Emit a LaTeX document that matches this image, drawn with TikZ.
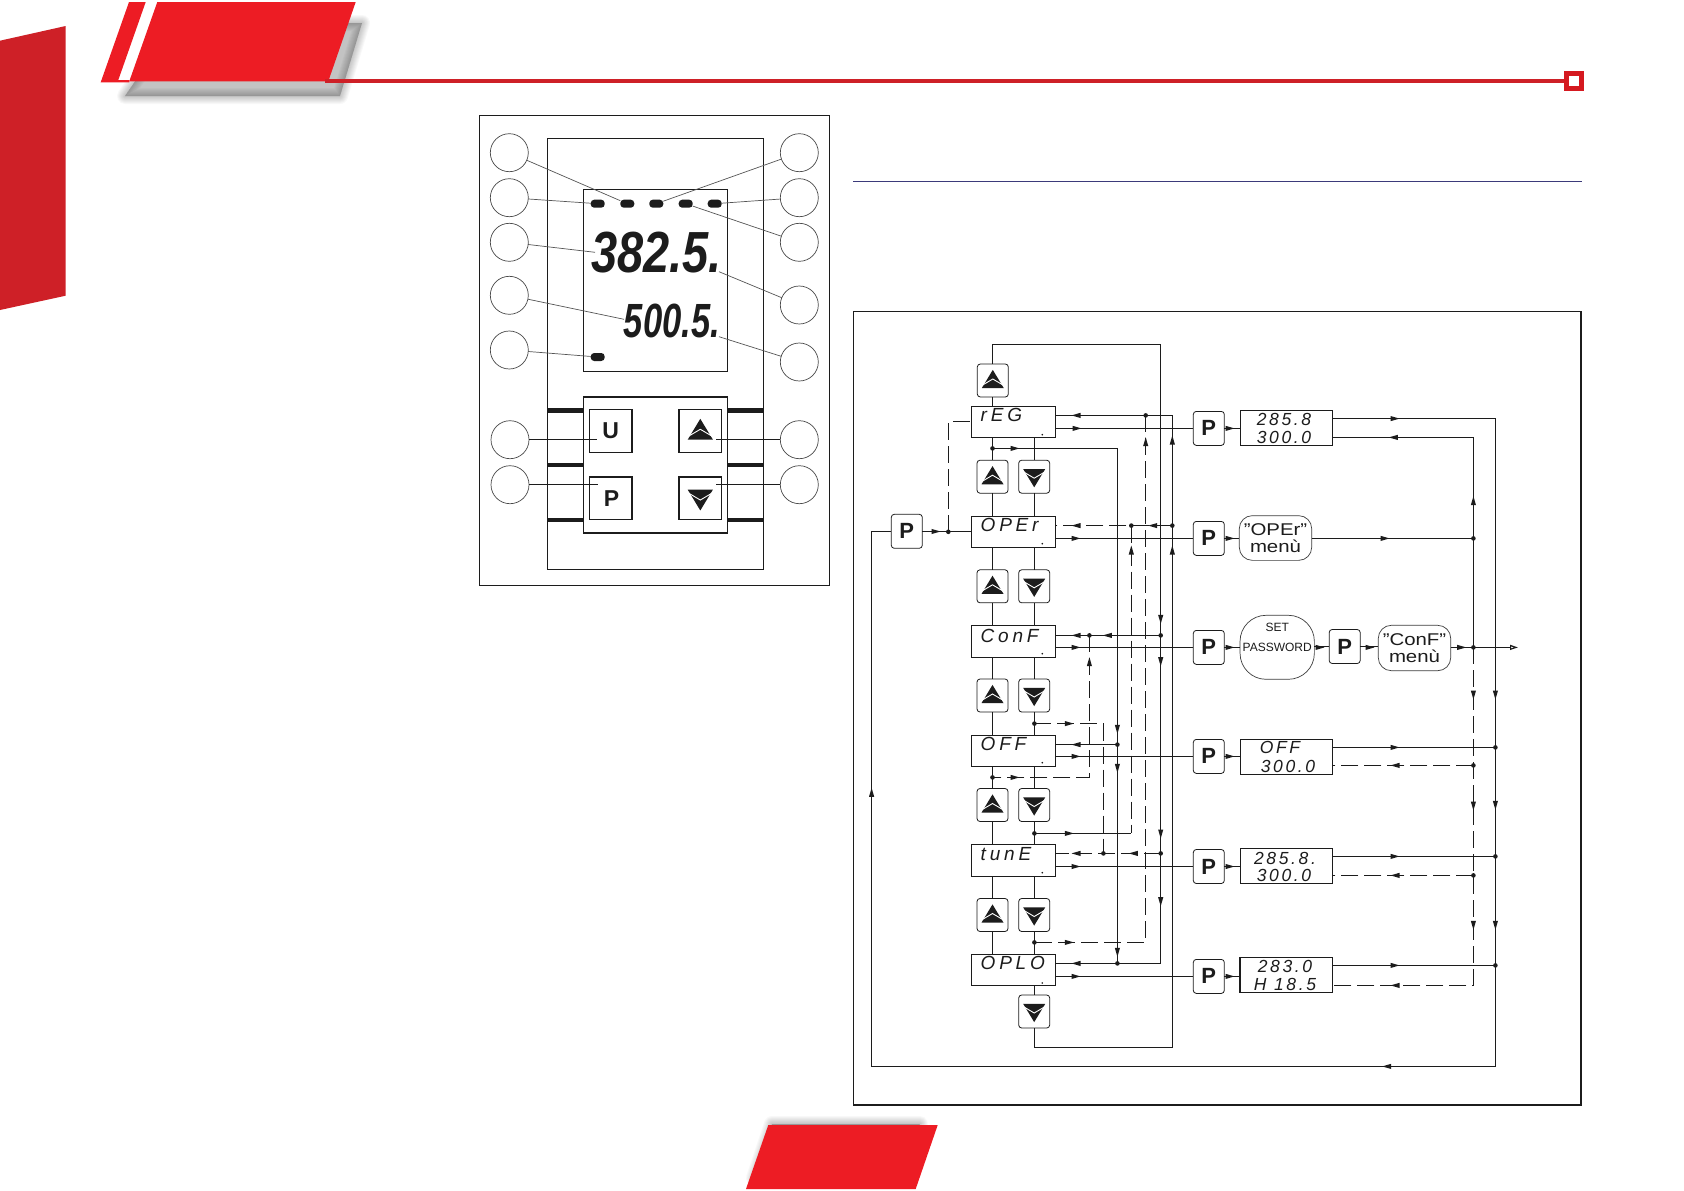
\documentclass[tikz,border=0pt]{standalone}
\usepackage{fontspec}
\usepackage{graphicx}
\setmainfont{Liberation Sans}
\newfontfamily\lcdmenu[LetterSpace=20]{Liberation Sans}
\newfontfamily\lcdval[LetterSpace=15]{Liberation Sans}
\usetikzlibrary{arrows.meta,calc}
\definecolor{brandred}{HTML}{ED1C24}
\definecolor{sidered}{HTML}{CE2027}
\definecolor{ruleblue}{HTML}{3B3A7A}
\definecolor{ink}{HTML}{1C1C1C}
\tikzset{
  ln/.style={draw=ink,line width=1.2pt},
  dsh/.style={draw=ink,line width=1.2pt,dash pattern=on 17pt off 6pt},
  leader/.style={draw=ink!75,line width=.7pt},
  leaderk/.style={draw=ink,line width=.9pt},
  callout/.style={circle,draw=ink!80,line width=.7pt,minimum size=38pt,inner sep=0,outer sep=0},
  keybox/.style={rectangle,rounded corners=3pt,draw=ink,line width=.8pt,minimum width=31pt,minimum height=33pt,inner sep=0,outer sep=0,fill=white},
  devkey/.style={rectangle,draw=ink,line width=1.2pt,minimum size=42.7pt,inner sep=0,outer sep=0,fill=white},
  pkey/.style={rectangle,rounded corners=3pt,draw=ink,line width=.8pt,minimum width=31pt,minimum height=34pt,inner sep=0,outer sep=0,fill=white,font=\fontsize{22}{22}\selectfont\bfseries,text=ink},
  menubox/.style={rectangle,draw=ink,line width=1.1pt,minimum width=84pt,inner sep=0,outer sep=0},
  valbox/.style={rectangle,draw=ink,line width=1.1pt,minimum width=92.4pt,minimum height=35pt,inner sep=0,outer sep=0},
  valtext/.style={inner sep=0,outer sep=0,text=ink,font=\fontsize{17.5}{17.5}\selectfont\lcdval\itshape},
  menutext/.style={inner sep=0,outer sep=0,anchor=west,text=ink,font=\fontsize{19}{19}\selectfont\lcdmenu\itshape},
  blob/.style={rectangle,rounded corners=13pt,draw=ink!85,line width=.7pt,inner sep=0,outer sep=0,align=center,text=ink,font=\fontsize{17}{17}\selectfont},
  led/.style={rectangle,rounded corners=3.5pt,fill=ink,minimum width=14pt,minimum height=8pt,inner sep=0,outer sep=0},
  outerbox/.style={draw=ink,line width=1.1pt},
  device/.style={draw=ink,line width=1.5pt}
}
\newcommand{\upglyph}[3]{\begin{scope}[shift={(#1,#2)},scale=#3]
  \fill[ink] (0,-10.6) -- (-11,7.6) -- (11,7.6) -- cycle;
  \draw[white,line width=.9pt] (-11,5) -- (0,-1.5) -- (11,5);
  \end{scope}}
\newcommand{\downglyph}[3]{\begin{scope}[shift={(#1,#2)},scale=#3]
  \fill[ink] (0,10.6) -- (-11,-7.6) -- (11,-7.6) -- cycle;
  \draw[white,line width=.9pt] (-11,-5) -- (0,1.5) -- (11,-5);
  \end{scope}}
\newcommand{\ukey}[3]{\node[keybox] (#1) at (#2,#3) {}; \upglyph{#2}{#3}{1}}
\newcommand{\dkey}[3]{\node[keybox] (#1) at (#2,#3) {}; \downglyph{#2}{#3}{1}}
\newcommand{\arr}[3]{\fill[ink,shift={(#1,#2)},rotate=#3] (4.5,0) -- (-4.5,-2.6) -- (-4.5,2.6) -- cycle;}
\newcommand{\jn}[3]{\coordinate (#1) at (#2,#3); \fill[ink] (#1) circle[radius=2.3pt];}
\newcommand{\softshadow}[1]{\foreach \w in {16,14,12,10,8,6,4,2,0.1}{\fill[black,opacity=.026,draw=black,line width=\w pt,line join=round] #1;}}
\newcommand{\wide}[1]{\scalebox{1.2}[1]{#1}}
\begin{document}
\begin{tikzpicture}[x=1pt,y=-1pt]
\useasboundingbox (0,0) rectangle (1684,1191);
\fill[white] (0,0) rectangle (1684,1191);
% --- page furniture
\fill[sidered] (0,40.7) -- (65.7,26) -- (65.7,295.7) -- (0,310) -- cycle;
\softshadow{(175,23) -- (362,23) -- (340,96) -- (125,96) -- cycle}
\fill[white] (145.7,2) -- (157.3,2) -- (129.3,81) -- (118.3,81) -- cycle;
\fill[brandred] (157.3,2) -- (355.7,2) -- (328.3,81.3) -- (129.3,81.3) -- cycle;
\fill[brandred] (129,2) -- (145.7,2) -- (118.3,80) -- (129.3,80) -- (129.3,82.3) -- (100.7,82.3) -- cycle;
\fill[sidered] (325,79) rectangle (1566,83);
\draw[brandred!90!black,line width=5pt] (1566.5,73.5) rectangle (1581.5,88.2);
\softshadow{(772,1124) -- (920,1124) -- (870,1178) -- (754,1178) -- cycle}
\fill[brandred] (768.3,1125) -- (937.7,1125) -- (915.7,1189) -- (746,1189) -- cycle;
\draw[ruleblue,line width=1pt] (853,181.3) -- (1581.7,181.3);
\draw[outerbox] (853.3,311.7) rectangle (1581,1105);
% --- instrument panel
\draw[draw=ink,line width=1pt] (479.3,115.3) rectangle (829.7,585.3);
\draw[device] (547.7,138.7) rectangle (763.3,569.3);
\draw[device] (583.3,189.3) rectangle (727.3,371.3);
\draw[device] (583.3,397) rectangle (727.3,533);
\foreach \yy in {410.3,465,519.7}{
  \fill[ink] (547.7,\yy-2.2) rectangle (583.3,\yy+2.2);
  \fill[ink] (727.3,\yy-2.2) rectangle (763.3,\yy+2.2);
}
\node[led] (led1) at (597.7,203.7) {};
\node[led] (led2) at (627.3,203.7) {};
\node[led] (led3) at (656.3,203.7) {};
\node[led] (led4) at (685.7,203.7) {};
\node[led] (led5) at (714.7,203.7) {};
\node[led] (led6) at (597.7,357) {};
\node[inner sep=0,outer sep=0,text=ink,font=\fontsize{58}{58}\selectfont\bfseries\itshape] (big1) at (656.5,252.8) {\scalebox{.81}[1]{382.5.}};
\node[inner sep=0,outer sep=0,text=ink,font=\fontsize{48}{48}\selectfont\bfseries\itshape] (big2) at (672,321) {\scalebox{.72}[1]{500.5.}};
\node[devkey] (kU) at (610.7,431) {};
\node[devkey] (kP) at (610.7,498.3) {};
\node[devkey] (kA) at (700.3,431) {};
\node[devkey] (kD) at (700.3,498.3) {};
\node[inner sep=0,text=ink,font=\fontsize{23}{23}\selectfont\bfseries] (tU) at (610.7,431) {U};
\node[inner sep=0,text=ink,font=\fontsize{23}{23}\selectfont\bfseries] (tP) at (611.5,498.3) {P};
\upglyph{700.3}{431}{1.15}
\downglyph{700.3}{498.3}{1.15}
\foreach \nm/\yy in {cl1/152.7,cl2/197.7,cl3/242.3,cl4/295.3,cl5/350}{\node[callout] (\nm) at (509.3,\yy) {};}
\node[callout] (cl6) at (510,439.7) {};
\node[callout] (cl7) at (510,484.7) {};
\foreach \nm/\yy in {cr1/152.7,cr2/197.7,cr3/242.3,cr4/305,cr5/362,cr6/439.7,cr7/484.7}{\node[callout] (\nm) at (799.3,\yy) {};}
\draw[leader] (cl1) -- (led2);
\draw[leader] (cl2) -- (led1);
\coordinate (e3) at (595,252.3);
\coordinate (e4) at (624,319.3);
\coordinate (e5) at (719,271.7);
\coordinate (e6) at (719,336.7);
\draw[leader] (cl3) -- (e3);
\draw[leader] (cl4) -- (e4);
\draw[leader] (cl5) -- (led6);
\draw[leader] (cr1) -- (led3);
\draw[leader] (cr2) -- (led5);
\draw[leader] (cr3) -- (led4);
\draw[leader] (cr4) -- (e5);
\draw[leader] (cr5) -- (e6);
\coordinate (eU) at (597.3,439.7);
\coordinate (eP) at (598.3,484.7);
\coordinate (eA) at (716,439.7);
\coordinate (eD) at (716,484.7);
\draw[leaderk] (cl6) -- (eU);
\draw[leaderk] (cl7) -- (eP);
\draw[leaderk] (cr6) -- (eA);
\draw[leaderk] (cr7) -- (eD);
% --- menu column
\node[menubox,minimum height=31pt] (reg) at (1013.9,421.8) {};
\node[menubox,minimum height=31pt] (oper) at (1013.7,531.8) {};
\node[menubox,minimum height=32pt] (conf) at (1013.7,641.3) {};
\node[menubox,minimum height=31pt] (off) at (1013.7,750.8) {};
\node[menubox,minimum height=32pt] (tune) at (1013.7,860.3) {};
\node[menubox,minimum height=31pt] (oplo) at (1013.7,970) {};
\node[menutext] (treg) at (980.7,415) {rEG};
\node[menutext] (toper) at (980.7,524.5) {OPEr};
\node[menutext] (tconf) at (980.7,635.5) {ConF};
\node[menutext] (toff) at (980.7,743.7) {OFF};
\node[menutext] (ttune) at (980.7,853.7) {tunE};
\node[menutext] (toplo) at (980.7,963.3) {OPLO};
\foreach \yy in {434.7,543.7,653.7,762.7,872.7,983}{\fill[ink] (1042.3,\yy) circle[radius=.9pt];}
\ukey{ku0}{992.8}{380.5}
\ukey{ku1}{992.5}{476.7}
\dkey{kd1}{1034.2}{476.7}
\ukey{ku2}{992.5}{586.3}
\dkey{kd2}{1034.2}{586.3}
\ukey{ku3}{992.5}{695.5}
\dkey{kd3}{1034.2}{695.5}
\ukey{ku4}{992.5}{805}
\dkey{kd4}{1034.2}{805}
\ukey{ku5}{992.5}{915}
\dkey{kd5}{1034.2}{915}
\dkey{kd6}{1034.2}{1011.5}
\node[pkey] (pa) at (906.8,531.3) {P};
\foreach \a/\k/\c in {reg/ku1/oper,oper/ku2/conf,conf/ku3/off,off/ku4/tune,tune/ku5/oplo,reg/kd1/oper,oper/kd2/conf,conf/kd3/off,off/kd4/tune,tune/kd5/oplo}{
  \draw[ln] (\a.south -| \k) -- (\k.north);
  \draw[ln] (\k.south) -- (\k.south |- \c.north);
}
\draw[ln] (ku0.south) -- (ku0.south |- reg.north);
\draw[ln] (kd6.north) -- (kd6.north |- oplo.south);
% --- right column
\node[pkey] (p1) at (1208.8,428.4) {P};
\node[pkey] (p2) at (1208.8,538.4) {P};
\node[pkey] (p3) at (1208.8,647.4) {P};
\node[pkey] (p4) at (1208.8,756.4) {P};
\node[pkey] (p5) at (1208.8,866.5) {P};
\node[pkey] (p6) at (1208.8,976.4) {P};
\node[pkey] (p7) at (1344.7,646.5) {P};
\node[valbox] (d1) at (1286.5,427.8) {};
\node[valbox] (d4) at (1286.5,757.3) {};
\node[valbox] (d5) at (1286.5,865.8) {};
\node[valbox] (d6) at (1286.2,974.8) {};
\node[valtext] (t1a) at (1284,419.5) {285.8};
\node[valtext] (t1b) at (1284,437) {300.0};
\node[valtext] (t4a) at (1280,747) {OFF};
\node[valtext] (t4b) at (1288,766) {300.0};
\node[valtext] (t5a) at (1285,858) {285.8.};
\node[valtext] (t5b) at (1284,875) {300.0};
\node[valtext] (t6a) at (1285,966) {283.0};
\node[valtext] (t6b) at (1285,984) {H 18.5};
\node[blob,minimum width=72.4pt,minimum height=44.7pt] (m2) at (1275.5,538) {\wide{"OPEr"}\\\wide{menù}};
\node[blob,minimum width=72.4pt,minimum height=45.4pt] (m3) at (1414.5,648) {\wide{"ConF"}\\\wide{menù}};
\node[blob,rounded corners=26pt,minimum width=74.3pt,minimum height=64pt,font=\fontsize{12}{19.6}\selectfont] (sp) at (1277.2,647.3) {SET\\PASSWORD\\~};
% --- junctions
\jn{j0}{992.5}{448.4}
\jn{jp}{948.3}{531.8}
\jn{jg}{1145.7}{415.4}
\jn{jr}{1172.3}{525.6}
\jn{jo}{1131.3}{525.6}
\jn{jc}{1160.7}{635.4}
\jn{jf}{1089.4}{635.4}
\jn{j3}{992.5}{777.4}
\jn{j4}{1034.4}{723.6}
\jn{joff}{1117.4}{744.6}
\jn{j5}{1034.4}{833.4}
\jn{jt}{1160.7}{853.4}
\jn{jw}{1103.4}{853.4}
\jn{j6}{1034.4}{942.4}
\jn{jq}{1117.4}{963.4}
\jn{jm}{1473.4}{538.4}
\jn{jout}{1473.4}{647.4}
\jn{jl4}{1473.4}{765.4}
\jn{jl5}{1473.4}{875.4}
\jn{ju4}{1495.4}{747.4}
\jn{ju5}{1495.4}{856.4}
\jn{ju6}{1495.4}{965.4}
\coordinate (tr) at (1160.7,344.4);
\coordinate (tb) at (1160.7,963.4);
\coordinate (br) at (1172.3,1047.4);
\coordinate (tl) at (1172.3,415.4);
\coordinate (u1) at (1495.4,418.6);
\coordinate (bb) at (1495.4,1066.4);
\coordinate (bl) at (871.6,1066.4);
\coordinate (l1) at (1473.4,437.4);
\coordinate (l6) at (1473.4,985.4);
\coordinate (out) at (1518,647.4);
% --- connectors
\draw[ln] (ku0.north) |- (tr) -- (tb) -- (oplo.east |- tb);
\draw[ln] (j0) -| (jq);
\draw[ln] (joff) -- (off.east |- joff);
\draw[ln] (kd6.south) |- (br) -- (tl) -- (reg.east |- tl);
\draw[dsh] (jr) -- (oper.east |- jr);
\draw[dsh] (jg) |- (j6);
\draw[dsh] (jo) -- (jo |- j5);
\draw[ln] (j5) -- (jo |- j5);
\draw[ln] (jc) -- (conf.east |- jc);
\draw[dsh] (jf) |- (j3);
\draw[dsh] (j4) -| (jw);
\draw[dsh] (jt) -- (tune.east |- jt);
\draw[ln] (pa.east) -- (oper.west |- pa.east);
\draw[dsh] (jp) |- (reg.west);
\draw[ln] (d1.east |- u1) -- (u1) -- (bb) -- (bl) |- (pa.west);
\foreach \bx/\pk in {reg/p1,oper/p2,conf/p3,off/p4,tune/p5,oplo/p6}{\draw[ln] (\bx.east |- \pk) -- (\pk.west);}
\draw[ln] (p1.east) -- (d1.west |- p1);
\draw[ln] (p2.east) -- (m2.west |- p2);
\draw[ln] (p3.east) -- (sp.west |- p3);
\draw[ln] (p4.east) -- (d4.west |- p4);
\draw[ln] (p5.east) -- (d5.west |- p5);
\draw[ln] (p6.east) -- (d6.west |- p6);
\draw[ln] (sp.east |- p7) -- (p7.west);
\draw[ln] (p7.east) -- (m3.west |- p7);
\draw[ln,-{Triangle[open,length=8pt,width=5pt]}] (m3.east |- jout) -- (out);
\draw[ln] (m2.east |- jm) -- (jm);
\draw[ln] (d1.east |- l1) -- (l1) -- (jout);
\draw[dsh] (jout) -- (l6) -- (d6.east |- l6);
\draw[ln] (d4.east |- ju4) -- (ju4);
\draw[ln] (d5.east |- ju5) -- (ju5);
\draw[ln] (d6.east |- ju6) -- (ju6);
\draw[dsh] (jl4) -- (d4.east |- jl4);
\draw[dsh] (jl5) -- (d5.east |- jl5);
% --- flow arrowheads
\arr{1076}{415.4}{180}\arr{1077}{428.4}{0}
\arr{1076}{525.6}{180}\arr{1152.7}{525.6}{180}\arr{1076}{538.4}{0}
\arr{1076}{635.4}{180}\arr{1107.3}{635.4}{180}\arr{1076}{647.4}{0}
\arr{1076}{744.6}{180}\arr{1076}{756.4}{0}
\arr{1076}{853.4}{180}\arr{1133.3}{853.4}{180}\arr{1076}{866.5}{0}
\arr{1076}{963.4}{180}\arr{1076}{976.4}{0}
\arr{1015}{448.4}{0}\arr{1015}{777.4}{0}
\arr{1069.3}{723.6}{0}\arr{1069.3}{833.4}{0}\arr{1069.3}{942.4}{0}
\arr{1145.7}{441.7}{90}\arr{1172.3}{440}{90}\arr{1172.3}{550}{90}\arr{1131.3}{550}{90}\arr{1089.4}{661.7}{90}
\arr{1160.7}{619.3}{-90}\arr{1160.7}{661.7}{-90}\arr{1160.7}{834}{-90}\arr{1160.7}{901.7}{-90}
\arr{1117.4}{729.3}{-90}\arr{1117.4}{768.3}{-90}\arr{1117.4}{952.3}{-90}
\arr{871.6}{792.3}{90}\arr{936}{531.5}{0}
\arr{1230}{428.4}{0}\arr{1230}{538.4}{0}\arr{1230}{647.4}{0}\arr{1230}{756.4}{0}\arr{1230}{866.5}{0}\arr{1230}{976.4}{0}
\arr{1320}{647.4}{0}\arr{1370}{647.4}{0}\arr{1461.7}{647.4}{0}
\arr{1395}{418.6}{0}\arr{1393.3}{437.4}{180}\arr{1385}{538.4}{0}
\arr{1395}{747.4}{0}\arr{1395}{765.4}{180}\arr{1395}{856.4}{0}\arr{1395}{875.4}{180}\arr{1395}{965.4}{0}\arr{1395}{985.4}{180}
\arr{1473.4}{500.7}{90}\arr{1473.4}{695}{-90}\arr{1473.4}{806}{-90}\arr{1473.4}{925.3}{-90}
\arr{1495.4}{695}{-90}\arr{1495.4}{805.3}{-90}\arr{1495.4}{925.3}{-90}
\arr{1386.7}{1066.4}{180}
\end{tikzpicture}
\end{document}
